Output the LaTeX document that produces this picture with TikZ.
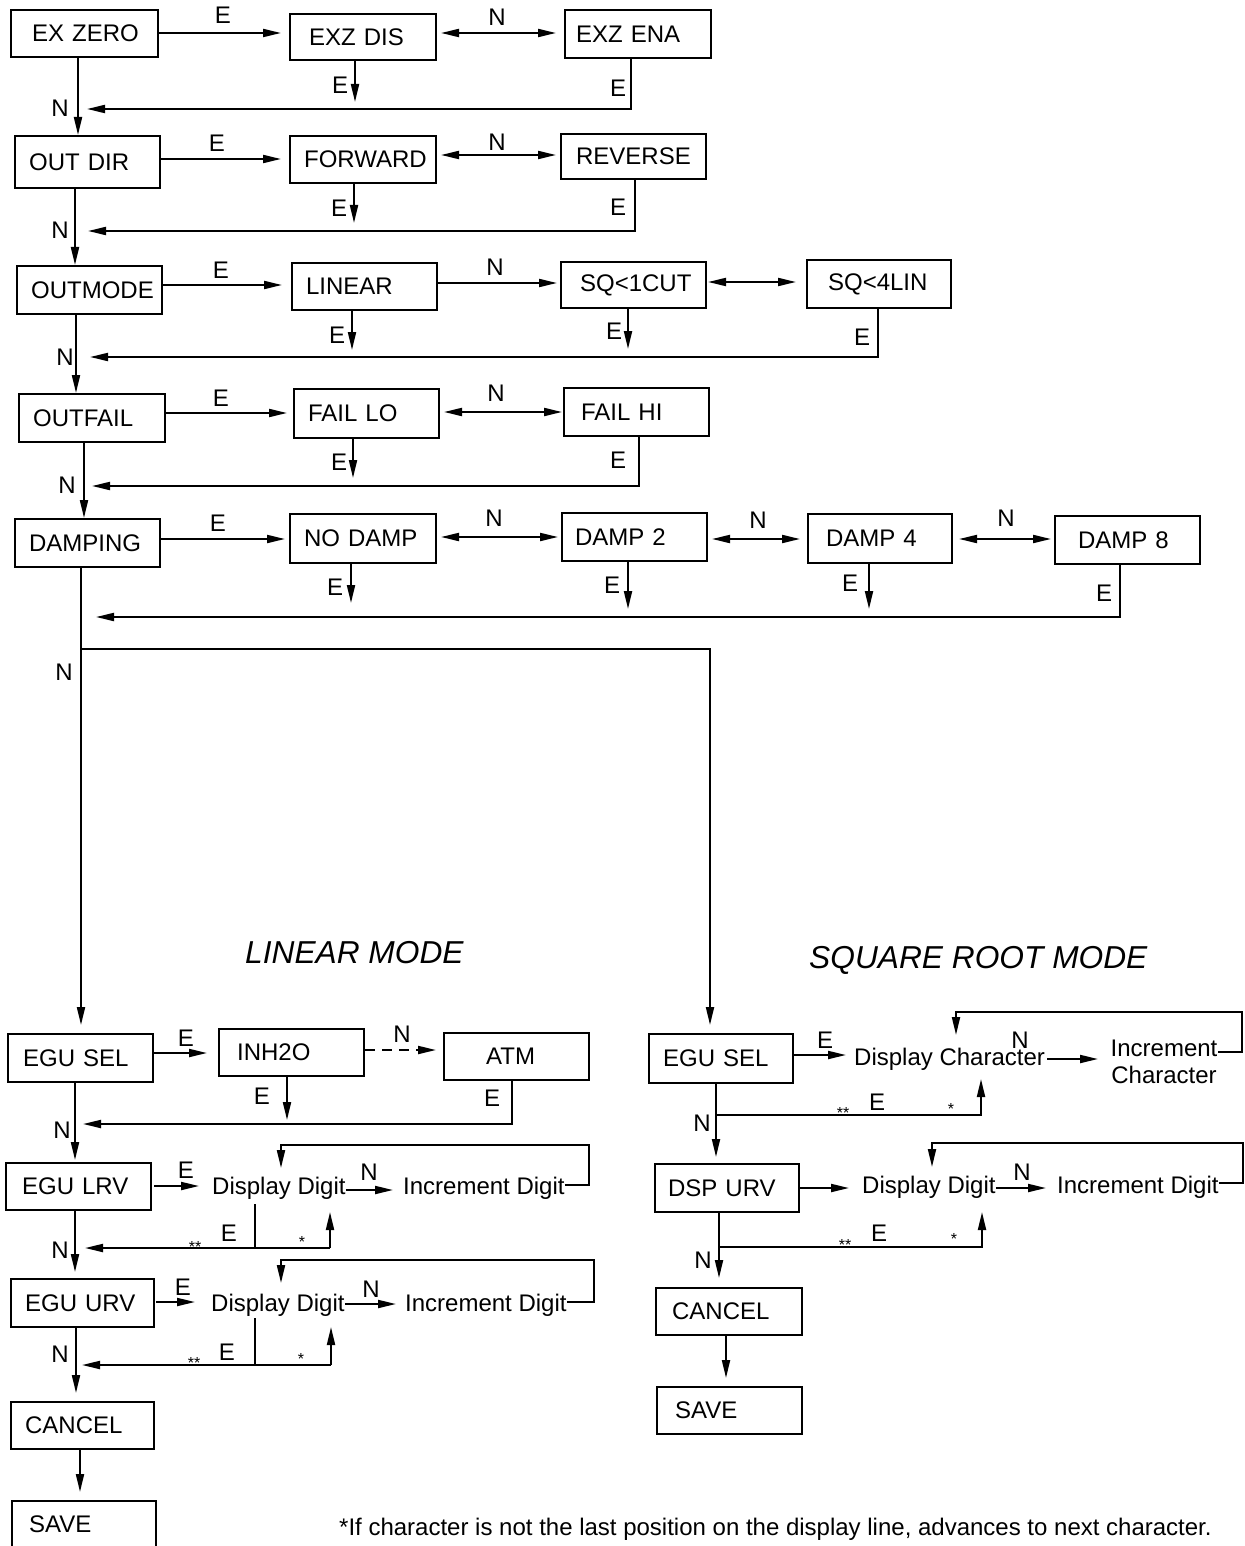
\documentclass[tikz,border=0pt]{standalone}
\usepackage{fontspec}
\setmainfont{Liberation Sans}
\usetikzlibrary{arrows.meta}
\newcommand\bx[7]{%
  \pgfmathsetmacro\bxw{#4-#2}%
  \pgfmathsetmacro\bxh{#5-#3}%
  \pgfmathsetmacro\bxt{#4-#2-2*#6}%
  \node[box, minimum width=\bxw pt, minimum height=\bxh pt, inner xsep=#6 pt, text width=\bxt pt] (#1) at (#2,#3) {\mbox{#7}};}
\begin{document}
\begin{tikzpicture}[x=1pt,y=-1pt,
  box/.style={draw, line width=2.2pt, anchor=north west, align=left, inner ysep=0pt,
    font=\fontsize{24}{28}\selectfont},
  lab/.style={font=\fontsize{24}{28}\selectfont, inner sep=0pt},
  txt/.style={font=\fontsize{24}{28}\selectfont, inner sep=0pt, anchor=base west},
  star/.style={font=\fontsize{16}{18}\selectfont, inner sep=0pt},
  ttl/.style={font=\fontsize{31.7}{36}\selectfont\itshape, inner sep=0pt, anchor=base west},
  ln/.style={line width=2pt},
  arr/.style={line width=2pt, -{Triangle[length=18pt,width=8pt]}},
  darr/.style={line width=2pt, {Triangle[length=18pt,width=8pt]}-{Triangle[length=18pt,width=8pt]}}]
\useasboundingbox (0,0) rectangle (1244,1546);
% ---------- Row 1
\bx{exzero}{10}{9}{157}{56}{21}{EX ZERO}
\bx{exzdis}{289}{13}{435}{59}{19}{EXZ DIS}
\bx{exzena}{564}{9}{710}{57}{11}{EXZ ENA}
% ---------- Row 2
\bx{outdir}{14}{135}{159}{187}{14}{OUT DIR}
\bx{forward}{289}{135}{435}{182}{14}{FORWARD}
\bx{reverse}{560}{133}{705}{178}{15}{REVERSE}
% ---------- Row 3
\bx{outmode}{16}{265}{161}{313}{14}{OUTMODE}
\bx{linear}{291}{262}{436}{309}{14}{LINEAR}
\bx{sqcut}{560}{261}{705}{307}{19}{SQ<1CUT}
\bx{sqlin}{806}{259}{950}{307}{21}{SQ<4LIN}
% ---------- Row 4
\bx{outfail}{18}{393}{164}{441}{14}{OUTFAIL}
\bx{faillo}{293}{388}{438}{437}{14}{FAIL LO}
\bx{failhi}{563}{387}{708}{435}{17}{FAIL HI}
% ---------- Row 5
\bx{damping}{14}{518}{159}{566}{14}{DAMPING}
\bx{nodamp}{289}{513}{435}{562}{14}{NO DAMP}
\bx{damptwo}{561}{512}{706}{560}{13}{DAMP 2}
\bx{dampfour}{807}{513}{951}{562}{18}{DAMP 4}
\bx{dampeight}{1054}{515}{1199}{563}{23}{DAMP 8}
% ---------- Linear mode
\bx{egul}{7}{1033}{152}{1081}{15}{EGU SEL}
\bx{inh}{218}{1028}{363}{1075}{18}{INH2O}
\bx{atm}{443}{1032}{588}{1079}{42}{ATM}
\bx{lrv}{5}{1162}{150}{1209}{16}{EGU LRV}
\bx{urv}{10}{1278}{153}{1326}{14}{EGU URV}
\bx{cancl}{10}{1401}{153}{1448}{14}{CANCEL}
\bx{savl}{11}{1500}{155}{1546}{17}{SAVE}
% ---------- Square root mode
\bx{egur}{648}{1033}{792}{1082}{14}{EGU SEL}
\bx{dsp}{654}{1163}{798}{1211}{13}{DSP URV}
\bx{cancr}{655}{1287}{801}{1334}{16}{CANCEL}
\bx{savr}{656}{1386}{801}{1433}{18}{SAVE}
% text nodes
\node[txt] (dda) at (212,1194) {Display Digit};
\node[txt] (ida) at (403,1194) {Increment Digit};
\node[txt] (ddb) at (211,1311) {Display Digit};
\node[txt] (idb) at (405,1311) {Increment Digit};
\node[txt] (dc) at (854,1065) {Display Character};
\node[font=\fontsize{24}{27}\selectfont, inner sep=0pt, align=center] (ic) at (1164,1062) {Increment\\Character};
\node[txt] (ddc) at (862,1193) {Display Digit};
\node[txt] (idc) at (1057,1193) {Increment Digit};
\node[ttl] (tlin) at (245,963) {LINEAR MODE};
\node[ttl] (tsq) at (809,968) {SQUARE ROOT MODE};
\node[txt] (foot) at (339,1535) {*If character is not the last position on the display line, advances to next character.};
% ---------- Row 1 connectors
\draw[arr] (exzero.east |- 0,33) -- (281,33);
\node[lab] (e1) at (223,15) {E};
\draw[darr] (441,33) -- (556,33);
\node[lab] (n1) at (497,17) {N};
\draw[arr] (exzdis.south -| 355,0) -- (355,102);
\node[lab] (e2) at (340,85) {E};
\draw[arr] (exzena.south -| 631,0) |- (87,109);
\node[lab] (e3) at (618,88) {E};
\draw[arr] (exzero.south -| 78,0) -- (outdir.north -| 78,0);
\node[lab] (n2) at (60,108) {N};
% ---------- Row 2
\draw[arr] (outdir.east |- 0,159) -- (281,159);
\node[lab] (e4) at (217,143) {E};
\draw[darr] (441,155) -- (556,155);
\node[lab] (n3) at (497,142) {N};
\draw[arr] (forward.south -| 354,0) -- (354,223);
\node[lab] (e5) at (339,208) {E};
\draw[arr] (reverse.south -| 635,0) |- (88,231);
\node[lab] (e6) at (618,207) {E};
\draw[arr] (outdir.south -| 75,0) -- (outmode.north -| 75,0);
\node[lab] (n4) at (60,230) {N};
% ---------- Row 3
\draw[arr] (outmode.east |- 0,285) -- (282,285);
\node[lab] (e7) at (221,270) {E};
\draw[arr] (linear.east |- 0,283) -- (557,283);
\node[lab] (n5) at (495,267) {N};
\draw[darr] (708,282) -- (796,282);
\draw[arr] (linear.south -| 352,0) -- (352,350);
\node[lab] (e8) at (337,335) {E};
\draw[arr] (sqcut.south -| 628,0) -- (628,349);
\node[lab] (e9) at (614,331) {E};
\draw[arr] (sqlin.south -| 878,0) |- (90,357);
\node[lab] (e10) at (862,337) {E};
\draw[arr] (outmode.south -| 76,0) -- (outfail.north -| 76,0);
\node[lab] (n6) at (65,357) {N};
% ---------- Row 4
\draw[arr] (outfail.east |- 0,413) -- (287,413);
\node[lab] (e11) at (221,398) {E};
\draw[darr] (444,412) -- (562,412);
\node[lab] (n7) at (496,393) {N};
\draw[arr] (faillo.south -| 353,0) -- (353,478);
\node[lab] (e12) at (339,462) {E};
\draw[arr] (failhi.south -| 639,0) |- (92,486);
\node[lab] (e13) at (618,460) {E};
\draw[arr] (outfail.south -| 84,0) -- (damping.north -| 84,0);
\node[lab] (n8) at (67,485) {N};
% ---------- Row 5
\draw[arr] (damping.east |- 0,539) -- (285,539);
\node[lab] (e14) at (218,523) {E};
\draw[darr] (441,537) -- (558,537);
\node[lab] (n9) at (494,518) {N};
\draw[darr] (712,539) -- (800,539);
\node[lab] (n10) at (758,520) {N};
\draw[darr] (959,539) -- (1051,539);
\node[lab] (n11) at (1006,518) {N};
\draw[arr] (nodamp.south -| 351,0) -- (351,603);
\node[lab] (e15) at (335,587) {E};
\draw[arr] (damptwo.south -| 628,0) -- (628,609);
\node[lab] (e16) at (612,585) {E};
\draw[arr] (dampfour.south -| 869,0) -- (869,609);
\node[lab] (e17) at (850,583) {E};
\draw[arr] (dampeight.south -| 1120,0) |- (96,617);
\node[lab] (e18) at (1104,593) {E};
% main split
\draw[arr] (damping.south -| 81,0) -- ([yshift=8pt]egul.north -| 81,0);
\draw[arr] (81,649) -| ([yshift=8pt]egur.north -| 710,0);
\node[lab] (n12) at (64,672) {N};
% ---------- Linear mode connectors
\draw[arr] (egul.east |- 0,1053) -- (207,1053);
\node[lab] (e19) at (186,1038) {E};
\draw[line width=2pt, dash pattern=on 10pt off 7pt, -{Triangle[length=18pt,width=8pt]}] (inh.east |- 0,1050) -- (436,1050);
\node[lab] (n13) at (402,1034) {N};
\draw[arr] (inh.south -| 287,0) -- (287,1120);
\node[lab] (e20) at (262,1096) {E};
\draw[arr] (atm.south -| 512,0) |- (83,1124);
\node[lab] (e21) at (492,1098) {E};
\draw[arr] (egul.south -| 75,0) -- ([yshift=2pt]lrv.north -| 75,0);
\node[lab] (n14) at (62,1130) {N};
% EGU LRV
\draw[arr] (154,1186) -- (199,1186);
\node[lab] (e22) at (186,1170) {E};
\draw[arr] (dda.east |- 0,1190) -- (393,1190);
\node[lab] (n15) at (369,1172) {N};
\draw[arr] (ida.east |- 0,1185) -- (589,1185) |- (281,1145) -- (281,1168);
\draw[ln] (255,1204) -- (255,1248);
\draw[arr] (330,1248) -- (85,1248);
\draw[arr] (330,1248) -- (330,1212);
\node[star] (s1) at (195,1247) {**};
\node[lab] (e23) at (229,1233) {E};
\node[star] (s2) at (302,1242) {*};
\draw[arr] (lrv.south -| 75,0) -- ([yshift=6pt]urv.north -| 75,0);
\node[lab] (n16) at (60,1250) {N};
% EGU URV
\draw[arr] (156,1302) -- (195,1302);
\node[lab] (e24) at (183,1287) {E};
\draw[arr] (ddb.east |- 0,1304) -- (396,1304);
\node[lab] (n17) at (371,1289) {N};
\draw[arr] (idb.east |- 0,1302) -- (594,1302) |- (281,1260) -- (281,1283);
\draw[ln] (255,1318) -- (255,1365);
\draw[arr] (331,1365) -- (82,1365);
\draw[arr] (331,1365) -- (331,1327);
\node[star] (s3) at (194,1363) {**};
\node[lab] (e25) at (227,1352) {E};
\node[star] (s4) at (301,1359) {*};
\draw[arr] (urv.south -| 76,0) -- ([yshift=8pt]cancl.north -| 76,0);
\node[lab] (n18) at (60,1354) {N};
\draw[arr] (cancl.south -| 80,0) -- ([yshift=8pt]savl.north -| 80,0);
% ---------- Square root mode connectors
\draw[arr] (egur.east |- 0,1055) -- (846,1055);
\node[lab] (e26) at (825,1040) {E};
\draw[arr] (1047,1059) -- (1098,1059);
\node[lab] (n19) at (1020,1040) {N};
\draw[arr] (1218,1052) -- (1242,1052) |- (956,1012) -- (956,1035);
\draw[arr] (egur.south -| 716,0) -- ([yshift=6pt]dsp.north -| 716,0);
\draw[arr] (716,1115) -| (981,1079);
\node[star] (s5) at (843,1113) {**};
\node[lab] (e27) at (877,1102) {E};
\node[star] (s6) at (951,1109) {*};
\node[lab] (n20) at (702,1123) {N};
\draw[arr] (dsp.east |- 0,1188) -- (849,1188);
\draw[arr] (ddc.east |- 0,1188) -- (1046,1188);
\node[lab] (n21) at (1022,1172) {N};
\draw[arr] (idc.east |- 0,1183) -- (1243,1183) |- (932,1143) -- (932,1167);
\draw[arr] (dsp.south -| 719,0) -- ([yshift=9pt]cancr.north -| 719,0);
\draw[arr] (719,1247) -| (982,1212);
\node[star] (s7) at (845,1245) {**};
\node[lab] (e28) at (879,1233) {E};
\node[star] (s8) at (954,1239) {*};
\node[lab] (n22) at (703,1260) {N};
\draw[arr] (cancr.south -| 726,0) -- ([yshift=8pt]savr.north -| 726,0);
\end{tikzpicture}
\end{document}
